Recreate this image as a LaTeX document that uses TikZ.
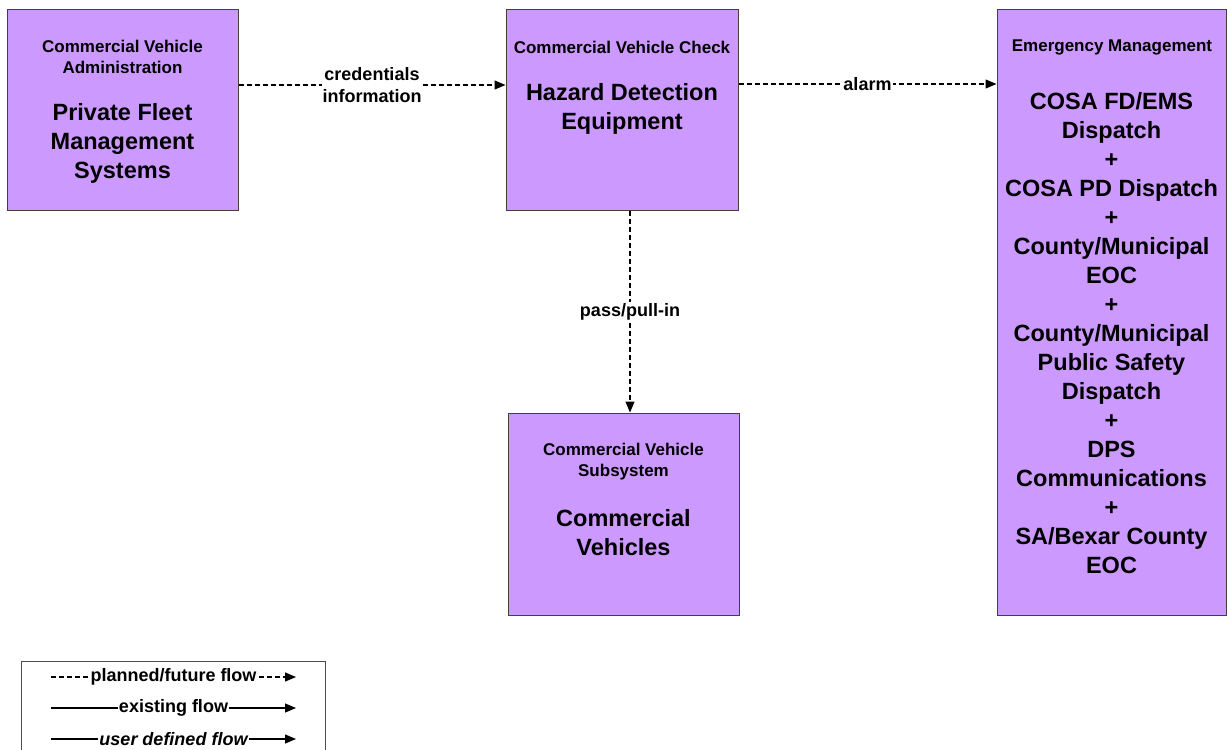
\documentclass[tikz,border=0pt]{standalone}
\usepackage{fontspec}
\setmainfont{Liberation Sans}
\usetikzlibrary{arrows.meta}
\definecolor{boxfill}{HTML}{CC99FF}

\tikzset{
  sysbox/.style={draw=black!75, fill=boxfill, line width=1pt, inner sep=0pt},
  headtext/.style={font=\bfseries\fontsize{17}{20.5}\selectfont, align=center, inner sep=0pt},
  titletext/.style={font=\bfseries\fontsize{23.5}{29}\selectfont, align=center, inner sep=0pt},
  flowlabel/.style={font=\bfseries\fontsize{18}{22}\selectfont, align=center, fill=white, inner sep=1pt},
  planned/.style={draw=black, line width=1.2pt, dash pattern=on 5pt off 3pt},
  existing/.style={draw=black, line width=1.2pt}
}

\begin{document}
\begin{tikzpicture}[x=1pt, y=-1pt, >={Triangle[length=11pt,width=9pt]}]
\useasboundingbox (0,0) rectangle (1227,750);

\node[sysbox, minimum width=231pt, minimum height=201pt] (pfm) at (122.5,109.5) {};
\node[headtext] (pfmhead) at (122.5,57) {Commercial Vehicle\\Administration};
\node[titletext] (pfmname) at (122.5,143) {Private Fleet\\Management\\Systems};

\node[sysbox, minimum width=232pt, minimum height=201pt] (hde) at (622,109.5) {};
\node[headtext] (hdehead) at (622,47) {Commercial Vehicle Check};
\node[titletext] (hdename) at (622,108.5) {Hazard Detection\\Equipment};

\node[sysbox, minimum width=229pt, minimum height=606pt] (em) at (1111.5,312) {};
\node[headtext] (emhead) at (1112,47.5) {Emergency Management};
\node[titletext] (emname) at (1111.5,333.5) {COSA FD/EMS\\Dispatch\\+\\COSA PD Dispatch\\+\\County/Municipal\\EOC\\+\\County/Municipal\\Public Safety\\Dispatch\\+\\DPS\\Communications\\+\\SA/Bexar County\\EOC};

\node[sysbox, minimum width=231pt, minimum height=202pt] (cv) at (623.5,514) {};
\node[headtext] (cvhead) at (623.5,461.5) {Commercial Vehicle\\Subsystem};
\node[titletext] (cvname) at (623.5,533) {Commercial\\Vehicles};

\draw[planned, ->] ([yshift=24.5pt]pfm.east) -- ([yshift=24.5pt]hde.west)
  node[flowlabel, midway] {credentials\\information};
\draw[planned, ->] ([yshift=25.5pt]hde.east) -- ([yshift=25.5pt]hde.east -| em.west)
  node[flowlabel, midway] {alarm};
\draw[planned, ->] ([xshift=8pt]hde.south) -- ([xshift=8pt]hde.south |- cv.north)
  node[flowlabel, midway] {pass/pull-in};

\draw[draw=black!70, line width=1pt] (21,661) rectangle (325,775);
\coordinate (l1a) at (51,677);
\coordinate (l1b) at (296,677);
\coordinate (l2a) at (51,708);
\coordinate (l2b) at (296,708);
\coordinate (l3a) at (51,739);
\coordinate (l3b) at (296,739);
\draw[planned, ->] (l1a) -- (l1b) node[flowlabel, midway] {planned/future flow};
\draw[existing, ->] (l2a) -- (l2b) node[flowlabel, midway] {existing flow};
\draw[existing, ->] (l3a) -- (l3b) node[flowlabel, midway, font=\bfseries\itshape\fontsize{18}{22}\selectfont] {user defined flow};
\end{tikzpicture}
\end{document}
